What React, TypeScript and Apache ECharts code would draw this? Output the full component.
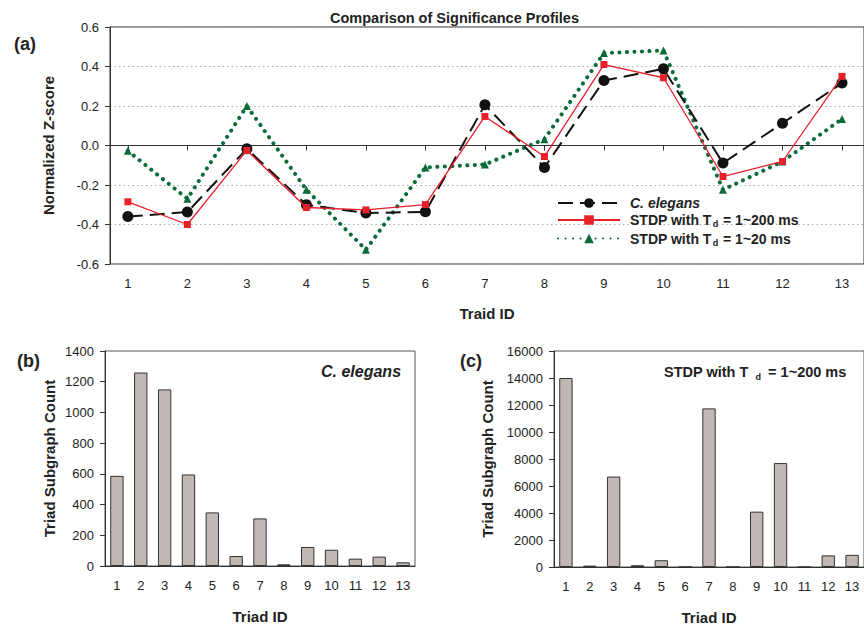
import React, { useEffect, useRef } from "react";
import * as echarts from "echarts";

const triadIds = [1, 2, 3, 4, 5, 6, 7, 8, 9, 10, 11, 12, 13];
const triadLabels = triadIds.map(String);

const cElegansZ = [-0.36, -0.337, -0.017, -0.3, -0.342, -0.336, 0.206, -0.111, 0.329, 0.388, -0.089, 0.113, 0.316];
const stdp200Z = [-0.285, -0.4, -0.025, -0.314, -0.326, -0.299, 0.147, -0.056, 0.41, 0.343, -0.157, -0.081, 0.35];
const stdp20Z = [-0.027, -0.27, 0.2, -0.224, -0.528, -0.111, -0.096, 0.032, 0.468, 0.481, -0.224, -0.081, 0.134];

const cElegansCount = [587, 1260, 1150, 596, 349, 65, 310, 11, 124, 106, 48, 61, 24];
const stdp200Count = [14000, 100, 6700, 130, 500, 0, 11750, 0, 4100, 7700, 0, 860, 900];

const NAME_CE = "C. elegans";
const NAME_200 = "STDP with Td = 1~200 ms";
const NAME_20 = "STDP with Td = 1~20 ms";

const FONT = "'Liberation Sans', Arial, sans-serif";
const TXT = "#222";
const AX = "#333";

export default function App() {
  const ref = useRef<HTMLDivElement>(null);
  useEffect(() => {
    if (!ref.current) return;
    const chart = echarts.init(ref.current, null, { renderer: "svg" });
    const pairs = (vals: number[]) => triadIds.map((x, i) => [x, vals[i]]);
    const axisLabel = { color: TXT, fontSize: 13, fontFamily: FONT };
    const nameStyle = { color: TXT, fontSize: 15, fontWeight: "bold", fontFamily: FONT };
    const panelLabel = { fontSize: 18, fontWeight: "bold", color: TXT, fontFamily: FONT };
    const legendRich = {
      sp: { width: 5 },
      i: { fontStyle: "italic", fontWeight: "bold", fontSize: 14, color: TXT, fontFamily: FONT },
      b: { fontWeight: "bold", fontSize: 14, color: TXT, fontFamily: FONT },
      sub: { fontWeight: "bold", fontSize: 9, color: TXT, fontFamily: FONT, padding: [8, 1, 0, 1] },
    };
    chart.setOption({
      animation: false,
      textStyle: { fontFamily: FONT },
      title: [
        {
          text: "Comparison of Significance Profiles",
          left: 325,
          top: 5,
          textStyle: { fontSize: 14.5, fontWeight: "bold", color: TXT, fontFamily: FONT },
        },
        { text: "(a)", left: 9, top: 30, textStyle: panelLabel },
        { text: "(b)", left: 12, top: 347, textStyle: panelLabel },
        { text: "(c)", left: 455, top: 347, textStyle: panelLabel },
        {
          text: "C. elegans",
          left: 316,
          top: 358,
          textStyle: { fontSize: 16, fontWeight: "bold", fontStyle: "italic", color: TXT, fontFamily: FONT },
        },
        {
          text: "{b|STDP with T }{sub|d}{b| = 1~200 ms}",
          left: 659,
          top: 358,
          textStyle: {
            rich: {
              b: { fontSize: 14.5, fontWeight: "bold", color: TXT, fontFamily: FONT },
              sub: { fontSize: 9, fontWeight: "bold", color: TXT, fontFamily: FONT, padding: [9, 3, 0, 3] },
            },
          },
        },
      ],
      legend: {
        left: 552,
        top: 191,
        orient: "vertical",
        itemWidth: 62,
        itemHeight: 12,
        itemGap: 3,
        data: [NAME_CE, NAME_200, NAME_20],
        formatter: (name: string) => {
          if (name === NAME_CE) return "{sp|}{i|C. elegans}";
          if (name === NAME_200) return "{sp|}{b|STDP with T}{sub|d}{b| = 1~200 ms}";
          return "{sp|}{b|STDP with T}{sub|d}{b| = 1~20 ms}";
        },
        textStyle: { rich: legendRich },
      },
      grid: [
        { left: 110, top: 27, width: 755, height: 237, show: true, borderColor: AX, borderWidth: 1, backgroundColor: "transparent" },
        { left: 105, top: 351, width: 310, height: 215, show: true, borderColor: "#555", borderWidth: 1, backgroundColor: "transparent" },
        { left: 554, top: 351, width: 312, height: 216, show: true, borderColor: "#555", borderWidth: 1, backgroundColor: "transparent" },
      ],
      xAxis: [
        {
          gridIndex: 0,
          type: "value",
          min: 0.7,
          max: 13.37,
          name: "Traid ID",
          nameLocation: "middle",
          nameGap: 42,
          nameTextStyle: nameStyle,
          axisLine: { lineStyle: { color: AX } },
          axisTick: { customValues: triadIds, length: 5, lineStyle: { color: AX } },
          axisLabel: { ...axisLabel, customValues: triadIds, margin: 13 },
          splitLine: { show: false },
        },
        {
          gridIndex: 1,
          type: "category",
          data: triadLabels,
          name: "Triad ID",
          nameLocation: "middle",
          nameGap: 43,
          nameTextStyle: nameStyle,
          axisLine: { lineStyle: { color: AX } },
          axisTick: { alignWithLabel: true, length: 5, lineStyle: { color: AX } },
          axisLabel: { ...axisLabel, margin: 13, interval: 0 },
        },
        {
          gridIndex: 2,
          type: "category",
          data: triadLabels,
          name: "Triad ID",
          nameLocation: "middle",
          nameGap: 43,
          nameTextStyle: nameStyle,
          axisLine: { lineStyle: { color: AX } },
          axisTick: { alignWithLabel: true, length: 5, lineStyle: { color: AX } },
          axisLabel: { ...axisLabel, margin: 13, interval: 0 },
        },
      ],
      yAxis: [
        {
          gridIndex: 0,
          type: "value",
          min: -0.6,
          max: 0.6,
          interval: 0.2,
          name: "Normalized Z-score",
          nameLocation: "middle",
          nameGap: 54,
          nameTextStyle: nameStyle,
          axisLine: { show: true, lineStyle: { color: AX } },
          axisTick: { show: true, length: 5, lineStyle: { color: AX } },
          axisLabel: { ...axisLabel, formatter: (v: number) => v.toFixed(1), margin: 11 },
          splitLine: { show: true, lineStyle: { type: [1.5, 3], color: "#aaa", width: 1 } },
        },
        {
          gridIndex: 1,
          type: "value",
          min: 0,
          max: 1400,
          interval: 200,
          name: "Triad Subgraph Count",
          nameLocation: "middle",
          nameGap: 48,
          nameTextStyle: nameStyle,
          axisLine: { show: true, lineStyle: { color: AX } },
          axisTick: { show: true, length: 5, lineStyle: { color: AX } },
          axisLabel: { ...axisLabel, margin: 11, formatter: (v: number) => String(v) },
          splitLine: { show: false },
        },
        {
          gridIndex: 2,
          type: "value",
          min: 0,
          max: 16000,
          interval: 2000,
          name: "Triad Subgraph Count",
          nameLocation: "middle",
          nameGap: 59,
          nameTextStyle: nameStyle,
          axisLine: { show: true, lineStyle: { color: AX } },
          axisTick: { show: true, length: 5, lineStyle: { color: AX } },
          axisLabel: { ...axisLabel, margin: 11, formatter: (v: number) => String(v) },
          splitLine: { show: false },
        },
      ],
      series: [
        {
          name: NAME_20,
          type: "line",
          xAxisIndex: 0,
          yAxisIndex: 0,
          data: pairs(stdp20Z),
          z: 2,
          symbol: "triangle",
          symbolSize: 8,
          itemStyle: { color: "#0b6b3a" },
          lineStyle: { color: "#0b6b3a", width: 4, type: [0.1, 7.4], cap: "round" },
        },
        {
          name: NAME_CE,
          type: "line",
          xAxisIndex: 0,
          yAxisIndex: 0,
          data: pairs(cElegansZ),
          z: 3,
          symbol: "circle",
          symbolSize: 11,
          itemStyle: { color: "#111" },
          lineStyle: { color: "#111", width: 2, type: [15, 7] },
        },
        {
          name: NAME_200,
          type: "line",
          xAxisIndex: 0,
          yAxisIndex: 0,
          data: pairs(stdp200Z),
          z: 4,
          symbol: "rect",
          symbolSize: 7,
          itemStyle: { color: "#e8202a" },
          lineStyle: { color: "#e8202a", width: 1.3 },
        },
        {
          name: "C. elegans count",
          type: "bar",
          xAxisIndex: 1,
          yAxisIndex: 1,
          data: cElegansCount,
          barWidth: "56%",
          itemStyle: { color: "#c1b7b4", borderColor: "#333", borderWidth: 1 },
        },
        {
          name: "STDP count",
          type: "bar",
          xAxisIndex: 2,
          yAxisIndex: 2,
          data: stdp200Count,
          barWidth: "56%",
          itemStyle: { color: "#c1b7b4", borderColor: "#333", borderWidth: 1 },
        },
      ],
    });
    return () => chart.dispose();
  }, []);
  return (
    <div
      ref={ref}
      style={{ position: "fixed", left: 0, top: 0, width: 864, height: 627, background: "#fff" }}
    />
  );
}
